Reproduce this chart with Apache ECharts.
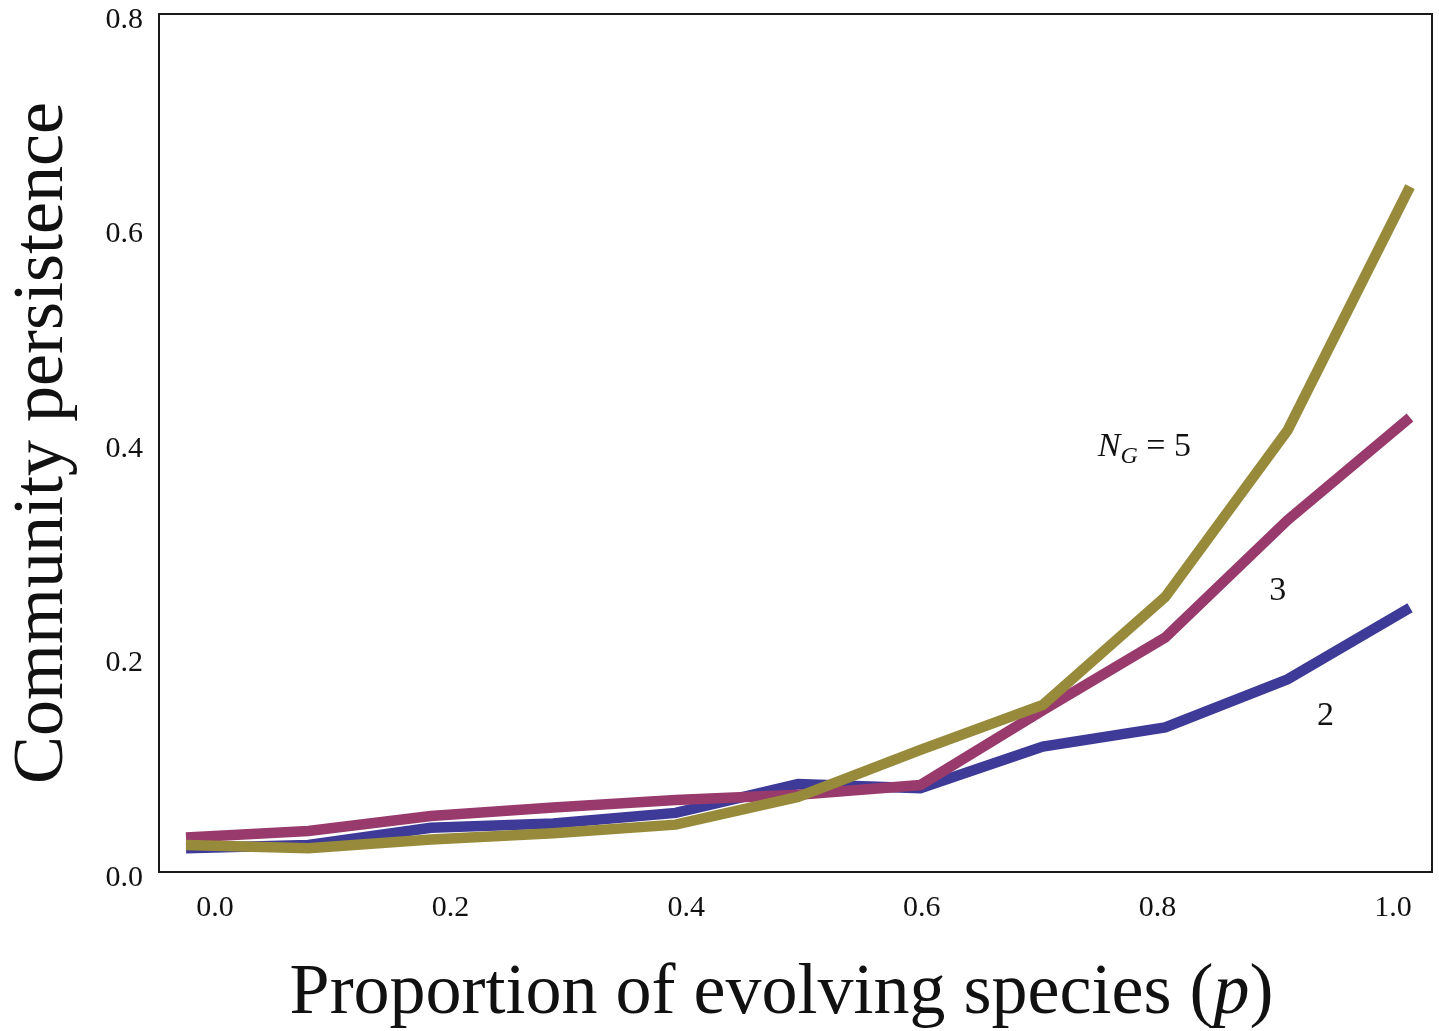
<!DOCTYPE html>
<html>
<head>
<meta charset="utf-8">
<script src="https://cdn.jsdelivr.net/npm/echarts@6/dist/echarts.min.js"></script>
<style>
html,body{margin:0;padding:0;background:#fff;}
#chart{width:1439px;height:1031px;}
</style>
</head>
<body>
<div id="chart"></div>
<script>
// ---- data ----
const pValues = [0.0, 0.1, 0.2, 0.3, 0.4, 0.5, 0.6, 0.7, 0.8, 0.9, 1.0];
const persistNG2 = [0.027, 0.030, 0.046, 0.050, 0.060, 0.087, 0.083, 0.122, 0.140, 0.185, 0.252];
const persistNG3 = [0.037, 0.043, 0.057, 0.065, 0.072, 0.077, 0.086, 0.156, 0.224, 0.334, 0.430];
const persistNG5 = [0.030, 0.027, 0.035, 0.041, 0.049, 0.075, 0.119, 0.161, 0.262, 0.418, 0.646];
const xTickValues = [0.0, 0.2, 0.4, 0.6, 0.8, 1.0];
const yTickValues = [0.0, 0.2, 0.4, 0.6, 0.8];
const labelText = ['{i|N}{sub|G}{n| = 5}', '{n|3}', '{n|2}'];
const labelX = [0.783, 0.892, 0.931];
const labelY = [0.402, 0.268, 0.151];

const serif = "'Liberation Serif', 'Times New Roman', serif";
const colors = ['#3e3a98', '#983a6c', '#978b3b'];

function pairs(xs, ys) { return xs.map((x, i) => [x, ys[i]]); }

const chart = echarts.init(document.getElementById('chart'), null, {renderer: 'canvas'});

const lineSeries = [persistNG2, persistNG3, persistNG5].map((vals, k) => ({
  type: 'line',
  xAxisIndex: 0,
  yAxisIndex: 0,
  data: pairs(pValues, vals),
  showSymbol: false,
  symbol: 'none',
  lineStyle: {color: colors[k], width: 10.5, cap: 'butt', join: 'miter'},
  z: 2 + k,
  silent: true
}));

const option = {
  animation: false,
  backgroundColor: '#ffffff',
  grid: {
    left: 159, right: 7, top: 14, bottom: 159,
    outerBoundsMode: 'none',
    containLabel: false,
    show: true, borderColor: '#1a1a1a', borderWidth: 2, backgroundColor: 'transparent'
  },
  xAxis: [
    {
      type: 'value', position: 'bottom',
      min: -0.02206, max: 1.01797,
      axisLine: {show: false}, axisTick: {show: false},
      axisLabel: {show: false}, splitLine: {show: false}
    },
    {
      type: 'value', position: 'bottom',
      min: -0.04754, max: 1.0331,
      axisLine: {show: false}, axisTick: {show: false}, splitLine: {show: false},
      axisLabel: {
        customValues: xTickValues,
        formatter: v => v.toFixed(1),
        fontFamily: serif, fontSize: 30, color: '#111', margin: 21
      },
      name: 'Proportion of evolving species ({i|p})',
      nameLocation: 'middle',
      nameGap: 86,
      nameTextStyle: {
        fontFamily: serif, fontSize: 72, color: '#111',
        padding: [0, 28, 0, 0],
        rich: {i: {fontFamily: serif, fontSize: 72, fontStyle: 'italic', color: '#111'}}
      }
    }
  ],
  yAxis: [
    {
      type: 'value', position: 'left',
      min: 0.00468, max: 0.8075,
      axisLine: {show: false}, axisTick: {show: false},
      axisLabel: {show: false}, splitLine: {show: false}
    },
    {
      type: 'value', position: 'left',
      min: 0, max: 0.8, interval: 0.2,
      axisLine: {show: false}, axisTick: {show: false}, splitLine: {show: false},
      axisLabel: {
        formatter: v => v.toFixed(1),
        fontFamily: serif, fontSize: 30, color: '#111', margin: 16,
        verticalAlign: 'top', lineHeight: 12
      },
      name: 'Community persistence',
      nameLocation: 'middle',
      nameGap: 80,
      nameTextStyle: {fontFamily: serif, fontSize: 72, color: '#111'}
    }
  ],
  series: lineSeries.concat([{
    type: 'scatter',
    xAxisIndex: 0,
    yAxisIndex: 0,
    symbolSize: 0,
    silent: true,
    z: 10,
    itemStyle: {opacity: 1},
    data: labelText.map((t, i) => [labelX[i], labelY[i]]),
    label: {
      show: true,
      position: 'inside',
      color: '#111',
      textBorderWidth: 0,
      opacity: 1,
      formatter: p => labelText[p.dataIndex],
      rich: {
        n: {fontFamily: serif, fontSize: 34, color: '#111'},
        i: {fontFamily: serif, fontSize: 34, fontStyle: 'italic', color: '#111'},
        sub: {fontFamily: serif, fontSize: 24, fontStyle: 'italic', color: '#111', padding: [18, 0, 0, 0]}
      }
    }
  }])
};

chart.setOption(option);
</script>
</body>
</html>
